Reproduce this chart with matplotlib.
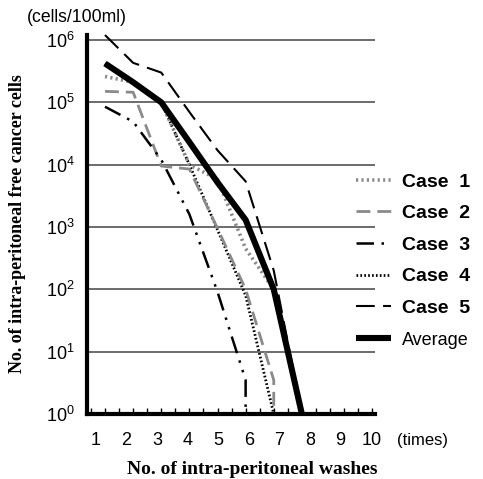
import matplotlib
matplotlib.use('Agg')
import matplotlib.pyplot as plt
from matplotlib.ticker import FixedLocator, FuncFormatter
import numpy as np

plt.rcParams['font.family'] = ['Liberation Sans', 'DejaVu Sans']
plt.rcParams['mathtext.fontset'] = 'custom'
plt.rcParams['mathtext.rm'] = 'Liberation Sans'

# number of washes and cell counts (cells/100ml)
washes_avg = [1, 2, 3, 4, 5, 6, 7, 8]
average = [4.2e5, 2.1e5, 1.0e5, 2.3e4, 5.2e3, 1.3e3, 1.0e2, 1]

washes_c1 = [1, 2, 3, 4, 5, 6, 7, 8]
case1 = [2.6e5, 2.1e5, 1.0e5, 1.0e4, 5.8e3, 4.5e2, 1.0e2, 1]

washes_c2 = [1, 2, 3, 4, 5, 6, 7, 7]
case2 = [1.5e5, 1.45e5, 9.5e3, 8.5e3, 9.5e2, 1.0e2, 3.5, 1]

washes_c3 = [1, 2, 3, 4, 5, 6, 6]
case3 = [8.5e4, 4.9e4, 1.2e4, 1.6e3, 91, 3.5, 1]

washes_c4 = [1, 2, 3, 4, 5, 6, 7]
case4 = [4.2e5, 2.1e5, 1.0e5, 1.0e4, 9.0e2, 80, 1]

washes_c5 = [1, 2, 3, 4, 5, 6, 7, 8]
case5 = [1.2e6, 4.3e5, 3.0e5, 7.0e4, 1.7e4, 5.4e3, 2.0e2, 1]

x_labels = ['1', '2', '3', '4', '5', '6', '7', '8', '9', '10']
decades = [1, 10, 100, 1e3, 1e4, 1e5, 1e6]

fig = plt.figure(figsize=(4.83, 4.79), dpi=100)
ax = fig.add_axes([87/483, 1-414/479, 288/483, 379/479])

ax.set_yscale('log')
ax.set_ylim(1, 10**6.08)
ax.set_xlim(0.36, 10.6)

for y in decades[1:]:
    ax.axhline(y, color='#444444', lw=1.1, zorder=1)

l1, = ax.plot(washes_c1, case1, color='#8a8a8a', lw=2.6, ls=(0, (0.6, 0.9)),
              dash_capstyle='butt', zorder=3, label='Case  1')
l2, = ax.plot(washes_c2, case2, color='#8a8a8a', lw=2.0, ls=(0, (5, 2.5)), zorder=3,
              label='Case  2')
l3, = ax.plot(washes_c3, case3, color='black', lw=1.8,
              ls=(0, (7, 3, 1, 3, 1, 3)), zorder=3, label='Case  3')
l4, = ax.plot(washes_c4, case4, color='black', lw=2.0, ls=(0, (0.6, 0.8)),
              dash_capstyle='butt', zorder=2, label='Case  4')
l5, = ax.plot(washes_c5, case5, color='black', lw=1.5, ls=(0, (9, 4)), zorder=3,
              clip_on=False, label='Case  5')
la, = ax.plot(washes_avg, average, color='black', lw=4.4, zorder=4,
              solid_capstyle='butt', label='Average')

for s in ['top', 'right']:
    ax.spines[s].set_visible(False)
ax.spines['left'].set_linewidth(3)
ax.spines['bottom'].set_linewidth(3)
ax.spines['bottom'].set_zorder(5)
ax.spines['left'].set_zorder(5)

ax.yaxis.set_major_locator(FixedLocator(decades))
ax.yaxis.set_minor_locator(FixedLocator([]))
ax.yaxis.set_major_formatter(FuncFormatter(
    lambda v, p: r'$\mathregular{10^{%d}}$' % round(np.log10(v))))
ax.tick_params(axis='y', length=0, pad=9, labelsize=13)

# labels sit on their own even spacing, slightly off the data positions
label_pos = 1 + (np.arange(10) * 30.6 - 9) / 28.14
ax.set_xticks(label_pos, x_labels)
ax.set_xticks(np.arange(0.5, 10.6, 0.5), minor=True)
ax.tick_params(axis='x', which='major', length=0, pad=13, labelsize=13)
ax.tick_params(axis='x', which='minor', direction='in', length=4, width=1)

fig.text(27/483, 1-18/479, '(cells/100ml)', fontsize=12.7, va='center', ha='left')
fig.text(397/483, 1-440/479, '(times)', fontsize=12, va='center', ha='left')
fig.text(18/483, 1-224/479, 'No. of intra-peritoneal free cancer cells',
         family='Liberation Serif', weight='bold', fontsize=13,
         rotation=90, va='center', ha='center')
fig.text(252/483, 1-469/479, 'No. of intra-peritoneal washes',
         family='Liberation Serif', weight='bold', fontsize=14,
         va='center', ha='center')

leg = fig.legend(handles=[l1, l2, l3, l4, l5, la], loc='upper left',
                 bbox_to_anchor=(356/483, 1-173/479), frameon=False,
                 borderpad=0, borderaxespad=0, handlelength=1.8,
                 handletextpad=0.55, labelspacing=0.72, fontsize=14)
for t in leg.get_texts()[:5]:
    t.set_family(['Liberation Sans Narrow', 'Liberation Sans'])
    t.set_weight('bold')
leg.get_texts()[5].set_fontsize(13)

fig.savefig('out.png', dpi=100)
